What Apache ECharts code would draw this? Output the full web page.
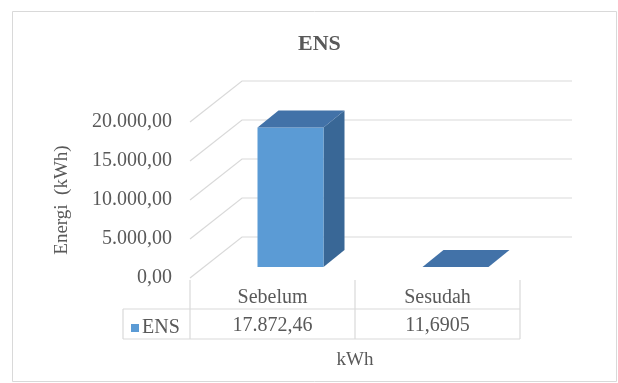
<!DOCTYPE html>
<html>
<head>
<meta charset="utf-8">
<script src="https://cdn.jsdelivr.net/npm/echarts@6/dist/echarts.min.js"></script>
<style>html,body{margin:0;padding:0;background:#fff}#c{width:618px;height:383px}</style>
</head>
<body>
<div id="c"></div>
<script>
// ---- data ----
const titleText = 'ENS';
const categories = ['Sebelum', 'Sesudah'];
const seriesName = 'ENS';
const ensValues = [17872.46, 11.6905];
const yTicks = [0, 5000, 10000, 15000, 20000];
const yAxisTitle = 'Energi  (kWh)';
const xAxisTitle = 'kWh';

// ---- formatting (Indonesian number style) ----
function fmtID(v, dec) {
  const s = dec == null ? String(v) : v.toFixed(dec);
  let parts = s.split('.');
  const ip = parts[0].replace(/\B(?=(\d{3})+(?!\d))/g, '.');
  return parts[1] ? ip + ',' + parts[1] : ip;
}

// ---- style / projection constants ----
const FONT = "'Liberation Serif', 'Times New Roman', serif";
const TXT = '#595959';
const GRIDC = '#d9d9d9';
const DEPTH = [52, -41];     // wall depth offset
const BAR_SHIFT = [18, -11]; // bar position within the depth
const BAR_DEPTH = [21, -17]; // bar thickness
const FRONT_C = '#5B9BD5', TOP_C = '#4272A8', SIDE_C = '#396796';

const chart = echarts.init(document.getElementById('c'), null, {renderer: 'canvas'});

function bandInfo(api) {
  const bw = api.size([1, 0])[0];
  const c0 = api.coord([0, 0]);
  const xl = c0[0] - bw / 2;
  return {bw: bw, xl: xl, xr: xl + bw * categories.length, y0: c0[1]};
}

const option = {
  backgroundColor: '#fff',
  animation: false,
  title: {
    text: titleText, left: 293, top: 28,
    textStyle: {fontFamily: FONT, fontSize: 22, fontWeight: 'bold', color: TXT}
  },
  legend: {
    data: [seriesName], left: 126, top: 313, icon: 'rect', itemWidth: 8, itemHeight: 8, itemGap: 4,
    textStyle: {fontFamily: FONT, fontSize: 20, color: TXT, padding: [0, 0, 0, -2]}
  },
  graphic: [{
    type: 'rect', shape: {x: 12.5, y: 11.5, width: 604, height: 370},
    style: {fill: null, stroke: GRIDC, lineWidth: 1}, silent: true, z: -10
  }],
  grid: {left: 190, right: 98, top: 122, bottom: 105, containLabel: false},
  xAxis: [{
    type: 'category', data: categories, position: 'bottom',
    axisLine: {show: false}, axisTick: {show: false}, splitLine: {show: false},
    axisLabel: {fontFamily: FONT, fontSize: 20, color: TXT, margin: 10},
    name: xAxisTitle, nameLocation: 'middle', nameGap: 73,
    nameTextStyle: {fontFamily: FONT, fontSize: 19, color: TXT}
  }, {
    type: 'category', data: categories, position: 'bottom', offset: 28,
    axisLine: {show: false}, axisTick: {show: false}, splitLine: {show: false},
    axisLabel: {fontFamily: FONT, fontSize: 20, color: TXT, margin: 10,
      formatter: function (v, i) { return fmtID(ensValues[i]); }}
  }],
  yAxis: {
    type: 'value', min: 0, max: 20000, interval: 5000,
    axisLine: {show: false}, axisTick: {show: false}, splitLine: {show: false},
    axisLabel: {fontFamily: FONT, fontSize: 20, color: TXT, margin: 18, padding: [5, 0, 0, 0],
      formatter: function (v) { return fmtID(v, 2); }},
    name: yAxisTitle, nameLocation: 'middle', nameGap: 118, nameRotate: 90,
    nameTextStyle: {fontFamily: FONT, fontSize: 19, color: TXT}
  },
  series: [{
    // 3D walls gridlines
    type: 'custom', name: 'walls', clip: false, silent: true, z: 1,
    data: yTicks.map(function (v) { return [0, v]; }),
    encode: {x: 0, y: 1},
    renderItem: function (params, api) {
      const b = bandInfo(api);
      const y = api.coord([0, api.value(1)])[1];
      return {
        type: 'polyline',
        shape: {points: [[b.xl, y], [b.xl + DEPTH[0], y + DEPTH[1]], [b.xr + DEPTH[0], y + DEPTH[1]]]},
        style: {stroke: GRIDC, lineWidth: 1.2, fill: null}
      };
    }
  }, {
    // data table lines
    type: 'custom', name: 'table', clip: false, silent: true, z: 1,
    data: [[0, 0]],
    encode: {x: 0, y: 1},
    renderItem: function (params, api) {
      const b = bandInfo(api);
      const y0 = b.y0;
      const children = [];
      const st = {stroke: GRIDC, lineWidth: 1.2};
      for (let k = 0; k <= categories.length; k++) {
        const x = b.xl + k * b.bw;
        children.push({type: 'line', shape: {x1: x, y1: y0 + 2, x2: x, y2: y0 + 61}, style: st});
      }
      const xLeg = b.xl - 67;
      children.push({type: 'line', shape: {x1: xLeg, y1: y0 + 31, x2: b.xr, y2: y0 + 31}, style: st});
      children.push({type: 'line', shape: {x1: xLeg, y1: y0 + 61, x2: b.xr, y2: y0 + 61}, style: st});
      children.push({type: 'line', shape: {x1: xLeg, y1: y0 + 31, x2: xLeg, y2: y0 + 61}, style: st});
      return {type: 'group', children: children};
    }
  }, {
    // 3D bars
    type: 'custom', name: seriesName, clip: false, z: 5,
    itemStyle: {color: FRONT_C},
    data: ensValues.map(function (v, i) { return [i, v]; }),
    encode: {x: 0, y: 1},
    renderItem: function (params, api) {
      const i = api.value(0);
      const base = api.coord([i, 0]);
      const top = api.coord([i, api.value(1)]);
      const bw = api.size([1, 0])[0];
      const w = bw * 0.4;
      const cx = base[0] + BAR_SHIFT[0];
      const xl = cx - w / 2, xr = cx + w / 2;
      const yb = base[1] + BAR_SHIFT[1], yt = top[1] + BAR_SHIFT[1];
      const dx = BAR_DEPTH[0], dy = BAR_DEPTH[1];
      return {
        type: 'group',
        children: [{
          type: 'polygon',
          shape: {points: [[xr, yt], [xr + dx, yt + dy], [xr + dx, yb + dy], [xr, yb]]},
          style: {fill: SIDE_C}
        }, {
          type: 'rect',
          shape: {x: xl, y: yt, width: w, height: Math.max(yb - yt, 0)},
          style: {fill: FRONT_C}
        }, {
          type: 'polygon',
          shape: {points: [[xl, yt], [xr, yt], [xr + dx, yt + dy], [xl + dx, yt + dy]]},
          style: {fill: TOP_C}
        }]
      };
    }
  }]
};
chart.setOption(option);
</script>
</body>
</html>
